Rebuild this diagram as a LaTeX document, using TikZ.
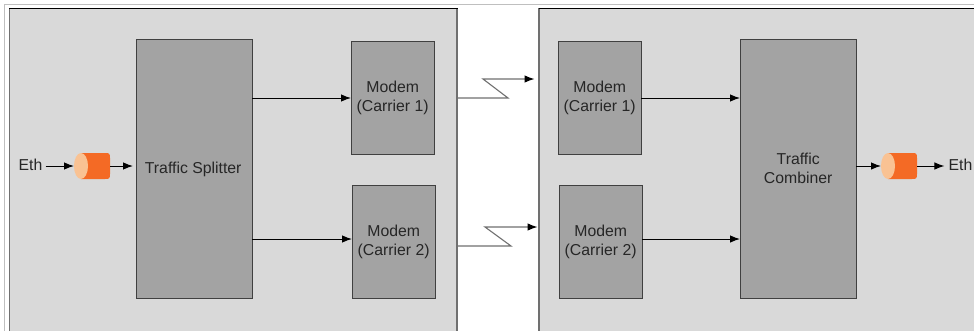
\documentclass[tikz,border=0pt]{standalone}
\usepackage{fontspec}
\setmainfont{Liberation Sans}
\usetikzlibrary{arrows.meta}
\definecolor{panelgrey}{HTML}{D9D9D9}
\definecolor{boxgrey}{HTML}{A3A3A3}
\definecolor{edgegrey}{HTML}{404040}
\definecolor{panelline}{HTML}{707070}
\definecolor{cylbody}{HTML}{F46A25}
\definecolor{cylend}{HTML}{F9C293}
\tikzset{
  x=1pt,y=-1pt,
  panelbox/.style={draw=panelline,fill=panelgrey,line width=1.2pt},
  blockbox/.style={draw=edgegrey,fill=boxgrey,line width=0.9pt,align=center,font=\fontsize{15.8}{19}\selectfont,text=black!85,inner sep=0pt,anchor=north west},
  flow/.style={draw=black,line width=1pt,-{Latex[length=10pt,width=7.5pt]}},
  linkline/.style={draw=panelline,line width=1.1pt,-{Latex[length=10pt,width=7.5pt,color=black]}},
  label/.style={font=\fontsize{15.8}{19}\selectfont,text=black!85,inner sep=0pt},
  pipe/.style={draw=none,minimum width=36pt,minimum height=26pt,inner sep=0pt,outer sep=0pt},
}
% draws the orange cylinder inside the named node
\newcommand{\pipedraw}[1]{%
  \fill[cylbody] ([xshift=7pt]#1.north west) -- ([xshift=-5pt]#1.north east)
    .. controls ([xshift=-1pt]#1.north east) and (#1.north east) .. ([yshift=-5pt]#1.north east)
    -- ([yshift=5pt]#1.south east)
    .. controls (#1.south east) and ([xshift=-1pt]#1.south east) .. ([xshift=-5pt]#1.south east)
    -- ([xshift=7pt]#1.south west) -- cycle;
  \fill[cylend] ([xshift=7pt]#1.west) ellipse [x radius=7pt,y radius=13pt];
}
\begin{document}
\begin{tikzpicture}
\useasboundingbox (0,0) rectangle (974,330);
\clip (0,0) rectangle (974,330);
\fill[white] (0,0) rectangle (974,330);
\draw[black!25,line width=1pt] (4.5,340) -- (4.5,4.5) -- (980,4.5);
% panels
\draw[panelbox] (9.5,8.5) rectangle (457,345);
\draw[panelbox] (539,8.5) rectangle (990,345);
\draw[black,line width=0.8pt] (9,8.5) -- (457.5,8.5);
\draw[black,line width=0.8pt] (538.5,8.5) -- (974,8.5);
% blocks
\node[blockbox,minimum width=115.5pt,minimum height=259pt] (split) at (136,39) {\kern-2pt Traffic Splitter};
\node[blockbox,minimum width=82.5pt,minimum height=113pt] (m1) at (351,41) {Modem\\(Carrier 1)};
\node[blockbox,minimum width=82.5pt,minimum height=113pt] (m2) at (352,185) {Modem\\(Carrier 2)};
\node[blockbox,minimum width=82.5pt,minimum height=113pt] (r1) at (558,41) {Modem\\(Carrier 1)};
\node[blockbox,minimum width=82.5pt,minimum height=113pt] (r2) at (559,185) {Modem\\(Carrier 2)};
\node[blockbox,minimum width=115.5pt,minimum height=259pt] (comb) at (740,39) {\raisebox{2pt}{Traffic}\\\raisebox{2pt}{Combiner}};
% Eth and pipes
\node[label] (ethl) at (30.5,164.5) {Eth};
\node[label] (ethr) at (960.5,164.5) {Eth};
\node[pipe] (pl) at (92,166) {};
\node[pipe] (pr) at (899,166) {};
\pipedraw{pl}
\pipedraw{pr}
\draw[flow] ([xshift=3pt]ethl.east |- pl.center) -- (pl.west);
\draw[flow] (pl.east) -- ([xshift=-3pt]split.west |- pl.east);
\draw[flow] (comb.east |- pr.center) -- (pr.west);
\draw[flow] (pr.east) -- ([xshift=-4pt]ethr.west |- pr.east);
% internal flows
\coordinate (s1) at (split.east |- 0,98);
\coordinate (s2) at (split.east |- 0,239);
\draw[flow] (s1) -- (m1.west |- s1);
\draw[flow] (s2) -- (m2.west |- s2);
\coordinate (c1) at (r1.east |- 0,98);
\coordinate (c2) at (r2.east |- 0,239);
\draw[flow] (c1) -- (comb.west |- c1);
\draw[flow] (c2) -- (comb.west |- c2);
% radio links
\coordinate (a0) at (457,98);
\coordinate (a1) at (508,98);
\coordinate (a2) at (483,79);
\coordinate (a3) at (534.5,79);
\draw[linkline] (a0) -- (a1) -- (a2) -- (a3);
\coordinate (b0) at (457,246);
\coordinate (b1) at (511,246);
\coordinate (b2) at (485,227);
\coordinate (b3) at (537.5,227);
\draw[linkline] (b0) -- (b1) -- (b2) -- (b3);
\end{tikzpicture}
\end{document}
